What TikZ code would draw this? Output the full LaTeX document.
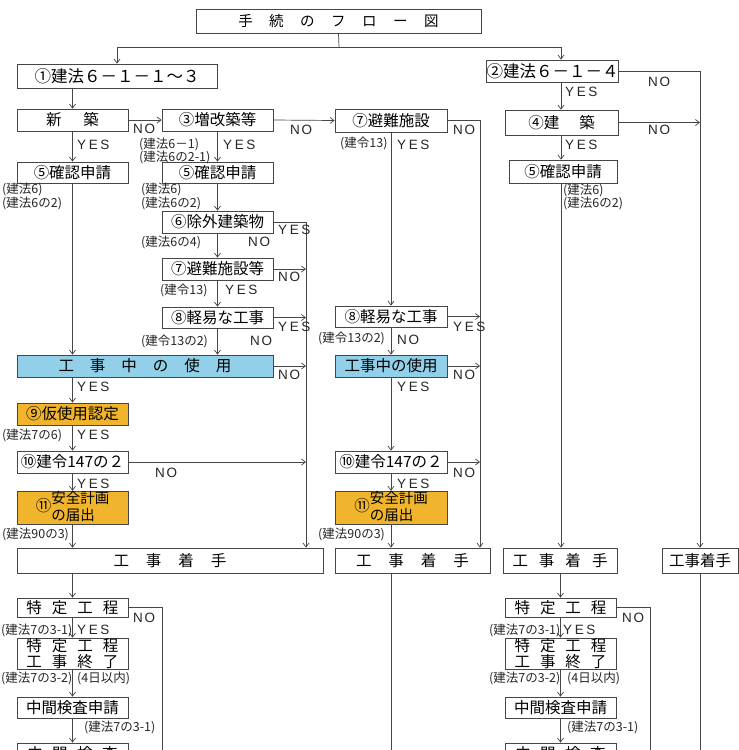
\documentclass[tikz,border=0pt]{standalone}
\usepackage{fontspec}
\setmainfont{Noto Sans CJK JP}
\newfontfamily\latf{Liberation Sans}
\usetikzlibrary{arrows.meta}
\definecolor{lc}{RGB}{70,70,70}
\definecolor{bluef}{RGB}{145,208,232}
\definecolor{orf}{RGB}{240,180,45}
\newcommand\yestxt{Y\kern2.6pt E\kern2.6pt S}
\newcommand\notxt{N\kern1.8pt O}
\newcommand\hg[1]{\hspace{#1pt}}
\newcommand\anzen{⑪\begin{tabular}[c]{@{}l@{}}\fontsize{14.5}{14}\selectfont 安全計画\\\fontsize{14.5}{14}\selectfont の届出\end{tabular}}
\begin{document}
\begin{tikzpicture}[x=1pt,y=-1pt,
  box/.style={draw=lc, line width=0.8pt, fill=white, inner sep=0pt, text=black,
    font=\fontsize{15.5}{15.5}\selectfont},
  bluebox/.style={box, fill=bluef},
  orbox/.style={box, fill=orf},
  arr/.style={draw=lc, line width=0.7pt, -{Straight Barb[length=4pt,width=6pt]}},
  ln/.style={draw=lc, line width=0.7pt},
  lab/.style={anchor=west, inner sep=0pt, text=black!85, font=\fontsize{12.5}{13}\selectfont},
  yn/.style={anchor=west, inner sep=0pt, text=black!85, font=\latf\fontsize{13.5}{14}\selectfont}]
\useasboundingbox (0,0) rectangle (739,750);
\clip (0,0) rectangle (739,750);
\fill[white] (0,0) rectangle (739,750);

\coordinate (cY) at (306,0);
\coordinate (cN) at (480,0);
\coordinate (cR) at (561,0);
\coordinate (cF) at (700,0);
\coordinate (jn) at (339,47);
\coordinate (endL) at (162,760);
\coordinate (end2) at (391,760);
\coordinate (endR) at (650,760);
\coordinate (end4) at (700,760);

% ---------- boxes ----------
\node[box, minimum width=285pt, minimum height=24pt, font=\fontsize{14.5}{14.5}\selectfont] (title) at (338.5,21)
  {手\hg{16.5}続\hg{16.5}の\hg{16.5}フ\hg{16.5}ロ\hg{16.5}ー\hg{16.5}図};
\node[box, minimum width=200pt, minimum height=24pt, font=\fontsize{16.5}{16.5}\selectfont] (b1) at (117,76) {①建法６－１－１～３};
\node[box, minimum width=127pt, minimum height=22pt, font=\fontsize{16.5}{16.5}\selectfont] (b2) at (552.5,71) {②建法６－１－４};

\node[box, minimum width=111pt, minimum height=22pt] (shin) at (72.5,120) {新\hg{22}築};
\node[box, minimum width=111pt, minimum height=22pt] (b3) at (217.5,120) {③増改築等};
\node[box, minimum width=112pt, minimum height=23pt] (b7) at (391,120.5) {⑦避難施設};
\node[box, minimum width=113pt, minimum height=25pt] (b4) at (561.5,122.5) {④建\hg{20}築};

\node[box, minimum width=111pt, minimum height=21pt] (b5L) at (72.5,172.5) {⑤確認申請};
\node[box, minimum width=111pt, minimum height=21pt] (b5M) at (217.5,172.5) {⑤確認申請};
\node[box, minimum width=108pt, minimum height=23pt] (b5R) at (563,171.5) {⑤確認申請};

\node[box, minimum width=111pt, minimum height=22pt] (b6) at (217.5,222) {⑥除外建築物};
\node[box, minimum width=111pt, minimum height=22pt] (b7b) at (217.5,269) {⑦避難施設等};
\node[box, minimum width=111pt, minimum height=21pt] (b8L) at (217.5,317.5) {⑧軽易な工事};
\node[box, minimum width=112pt, minimum height=21pt] (b8R) at (391,316.5) {⑧軽易な工事};

\node[bluebox, minimum width=256pt, minimum height=22pt] (useL) at (145,366)
  {工\hg{16}事\hg{16}中\hg{16}の\hg{16}使\hg{16}用};
\node[bluebox, minimum width=112pt, minimum height=22pt] (useR) at (391,366) {工事中の使用};

\node[orbox, minimum width=111pt, minimum height=22pt] (b9) at (72.5,414) {⑨仮使用認定};
\node[box, minimum width=111pt, minimum height=22pt] (b10L) at (72.5,462) {⑩建令147の２};
\node[box, minimum width=112pt, minimum height=22pt] (b10R) at (391,462) {⑩建令147の２};
\node[orbox, minimum width=111pt, minimum height=30pt] (b11L) at (72.5,508) {\anzen};
\node[orbox, minimum width=112pt, minimum height=30pt] (b11R) at (391,508) {\anzen};

\node[box, minimum width=306pt, minimum height=25pt] (st1) at (170,560.5) {工\hg{17}事\hg{17}着\hg{17}手};
\node[box, minimum width=155pt, minimum height=25pt] (st2) at (412.5,560.5) {工\hg{17}事\hg{17}着\hg{17}手};
\node[box, minimum width=114pt, minimum height=25pt] (st3) at (560,560.5) {工\hg{11}事\hg{11}着\hg{11}手};
\node[box, minimum width=76pt, minimum height=25pt] (st4) at (700,560.5) {工事着手};

\node[box, minimum width=111pt, minimum height=19pt] (t1L) at (72.5,607.5) {特\hg{10}定\hg{10}工\hg{10}程};
\node[box, minimum width=111pt, minimum height=31pt, align=center, font=\fontsize{15.5}{13.5}\selectfont] (t2L) at (72.5,653.5)
  {特\hg{10}定\hg{10}工\hg{10}程\\工\hg{10}事\hg{10}終\hg{10}了};
\node[box, minimum width=111pt, minimum height=21pt] (t3L) at (72.5,707.5) {中間検査申請};
\node[box, minimum width=111pt, minimum height=34pt, text depth=14pt] (t4L) at (72.5,760) {中\hg{9.5}間\hg{9.5}検\hg{9.5}査};

\node[box, minimum width=111pt, minimum height=19pt] (t1R) at (560.5,607.5) {特\hg{10}定\hg{10}工\hg{10}程};
\node[box, minimum width=111pt, minimum height=31pt, align=center, font=\fontsize{15.5}{13.5}\selectfont] (t2R) at (560.5,653.5)
  {特\hg{10}定\hg{10}工\hg{10}程\\工\hg{10}事\hg{10}終\hg{10}了};
\node[box, minimum width=111pt, minimum height=21pt] (t3R) at (560.5,707.5) {中間検査申請};
\node[box, minimum width=111pt, minimum height=34pt, text depth=14pt] (t4R) at (560.5,760) {中\hg{9.5}間\hg{9.5}検\hg{9.5}査};

% ---------- connectors ----------
\draw[ln] (title.south) -- (jn);
\draw[arr] (jn) -| (b1.north);
\draw[arr] (jn) -| (b2.north -| cR);
\draw[arr] (b1.south -| shin) -- (shin.north);
\draw[arr] (shin.east) -- (b3.west);
\draw[arr] (b3.east) -- (b7.west);
\draw[arr] (shin.south) -- (b5L.north);
\draw[arr] (b3.south) -- (b5M.north);
\draw[arr] (b7.south) -- (b8R.north);
\draw[arr] (b7.east) -| (st2.north -| cN);

\draw[arr] (b2.east) -| (st4.north);
\draw[arr] (b2.south -| cR) -- (b4.north -| cR);
\draw[arr] (b4.east) -- (b4.east -| cF);
\draw[arr] (b4.south -| cR) -- (b5R.north -| cR);
\draw[arr] (b5R.south -| cR) -- (st3.north -| cR);

\draw[arr] (b5L.south) -- (useL.north -| b5L);
\draw[arr] (b5M.south) -- (b6.north);
\draw[arr] (b6.east) -| (st1.north -| cY);
\draw[arr] (b6.south) -- (b7b.north);
\draw[arr] (b7b.east) -- (b7b.east -| cY);
\draw[arr] (b7b.south) -- (b8L.north);
\draw[arr] (b8L.east) -- (b8L.east -| cY);
\draw[arr] (b8L.south) -- (useL.north -| b8L);
\draw[arr] (useL.east) -- (useL.east -| cY);
\draw[arr] (useL.south -| b9) -- (b9.north);
\draw[arr] (b9.south) -- (b10L.north);
\draw[arr] (b10L.east) -- (b10L.east -| cY);
\draw[arr] (b10L.south) -- (b11L.north);
\draw[arr] (b11L.south) -- (st1.north -| b11L);

\draw[arr] (b8R.east) -- (b8R.east -| cN);
\draw[arr] (b8R.south) -- (useR.north);
\draw[arr] (useR.east) -- (useR.east -| cN);
\draw[arr] (useR.south) -- (b10R.north);
\draw[arr] (b10R.east) -- (b10R.east -| cN);
\draw[arr] (b10R.south) -- (b11R.north);
\draw[arr] (b11R.south) -- (st2.north -| b11R);

\draw[arr] (st1.south -| t1L) -- (t1L.north);
\draw[ln] (t1L.east) -| (endL);
\draw[arr] (t1L.south) -- (t2L.north);
\draw[arr] (t2L.south) -- (t3L.north);
\draw[arr] (t3L.south) -- (t4L.north);
\draw[ln] (st2.south -| end2) -- (end2);
\draw[arr] (st3.south -| t1R) -- (t1R.north);
\draw[ln] (t1R.east) -| (endR);
\draw[arr] (t1R.south) -- (t2R.north);
\draw[arr] (t2R.south) -- (t3R.north);
\draw[arr] (t3R.south) -- (t4R.north);
\draw[ln] (st4.south) -- (end4);

% ---------- labels ----------
\node[yn] (n1) at (133,129) {\notxt};
\node[yn] (n2) at (290,130) {\notxt};
\node[yn] (y1) at (77,145) {\yestxt};
\node[lab] (l1) at (139,144) {(建法6－1)};
\node[lab] (l2) at (139,157) {(建法6の2-1)};
\node[yn] (y2) at (223,145) {\yestxt};
\node[lab] (l3) at (340,143) {(建令13)};
\node[yn] (y3) at (397,145) {\yestxt};
\node[yn] (n3) at (453,130) {\notxt};

\node[yn] (y4) at (565,92) {\yestxt};
\node[yn] (n4) at (648,82) {\notxt};
\node[yn] (n5) at (648,130) {\notxt};
\node[yn] (y5) at (565,145) {\yestxt};

\node[lab] (l4) at (2,189) {(建法6)};
\node[lab] (l5) at (2,203) {(建法6の2)};
\node[lab] (l6) at (141,189) {(建法6)};
\node[lab] (l7) at (141,203) {(建法6の2)};
\node[lab] (l8) at (563,190) {(建法6)};
\node[lab] (l9) at (563,203) {(建法6の2)};

\node[yn] (y6) at (278,230) {\yestxt};
\node[yn] (n6) at (248,242) {\notxt};
\node[lab] (l10) at (141,242) {(建法6の4)};
\node[yn] (n7) at (278,277) {\notxt};
\node[lab] (l11) at (160,290) {(建令13)};
\node[yn] (y7) at (225,290) {\yestxt};
\node[yn] (y8) at (278,327) {\yestxt};
\node[lab] (l12) at (141,341) {(建令13の2)};
\node[yn] (n8) at (250,341) {\notxt};

\node[yn] (y9) at (453,327) {\yestxt};
\node[lab] (l13) at (318,338) {(建令13の2)};
\node[yn] (n9) at (397,340) {\notxt};

\node[yn] (n10) at (278,375) {\notxt};
\node[yn] (n11) at (453,375) {\notxt};
\node[yn] (y10) at (77,387) {\yestxt};
\node[yn] (y11) at (397,387) {\yestxt};
\node[lab] (l14) at (2,435) {(建法7の6)};
\node[yn] (y12) at (77,435) {\yestxt};
\node[yn] (n12) at (155,473) {\notxt};
\node[yn] (n13) at (453,473) {\notxt};
\node[yn] (y13) at (77,484) {\yestxt};
\node[yn] (y14) at (397,484) {\yestxt};
\node[lab] (l15) at (2,534) {(建法90の3)};
\node[lab] (l16) at (318,534) {(建法90の3)};

\node[yn] (n14) at (133,618) {\notxt};
\node[lab] (l17) at (1,630) {(建法7の3-1)};
\node[yn] (y15) at (77,630) {\yestxt};
\node[lab] (l18) at (1,678) {(建法7の3-2)};
\node[lab] (l19) at (77,678) {(4日以内)};
\node[lab] (l20) at (84,727) {(建法7の3-1)};

\node[yn] (n15) at (622,618) {\notxt};
\node[lab] (l21) at (489,630) {(建法7の3-1)};
\node[yn] (y16) at (563,630) {\yestxt};
\node[lab] (l22) at (489,678) {(建法7の3-2)};
\node[lab] (l23) at (567,678) {(4日以内)};
\node[lab] (l24) at (567,727) {(建法7の3-1)};
\end{tikzpicture}
\end{document}
